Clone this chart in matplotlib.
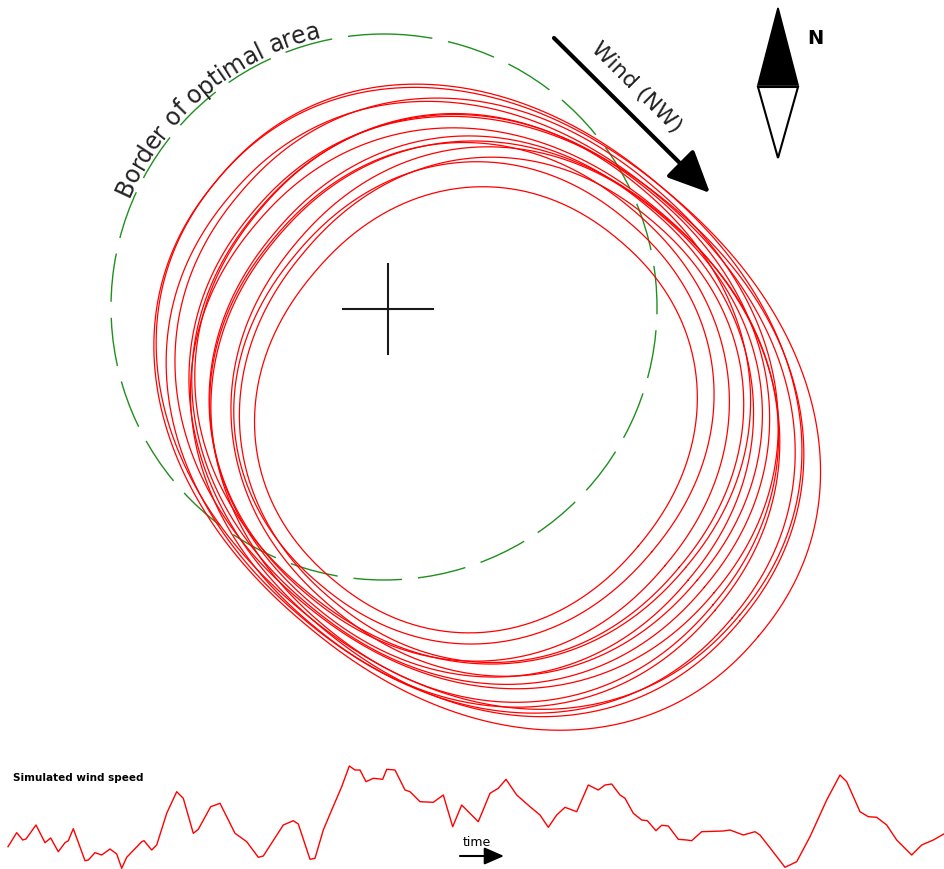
import numpy as np
import matplotlib
matplotlib.use('Agg')
import matplotlib.pyplot as plt
from matplotlib.patches import Circle, Polygon
from matplotlib.font_manager import FontProperties

W, H = 945, 869

# green border of optimal area + target cross (pixel units)
border_center = (384, 307)
border_radius = 273
cross_center = (388, 309)
cross_half = 45

# flight loops: superellipses tilted along the wind (NW -> SE)
tilt_deg = 40
loop_a = [212, 232, 245, 255, 262, 270, 278, 285, 292, 300, 310, 318, 328, 340, 354]
loop_b = [222, 238, 248, 252, 256, 260, 262, 266, 268, 270, 272, 274, 276, 278, 282]
loop_c1 = [628, 622, 640, 618, 645, 630, 612, 650, 625, 640, 618, 648, 630, 622, 636]
loop_c2 = [-8, -4, 2, -6, 4, -2, 6, -5, 3, -8, 5, 0, -3, 4, 0]
loop_power = 2.15

# simulated wind speed trace
wind_x = [8, 16.7, 22.7, 26, 36, 45, 50.7, 58.3, 65, 68.3, 73.3, 85, 88.3, 95, 101.7, 110,
          116.7, 121.7, 126.7, 141.7, 144, 151.7, 156.7, 166.7, 176.7, 183.3, 193.3, 198.3,
          210.7, 220, 235, 246.7, 258.3, 263.3, 283.3, 293.3, 298.3, 310, 315, 323.3, 331.7,
          341.7, 349.3, 355, 360, 366, 373.3, 382.7, 386.7, 395, 405, 410, 420, 433.3, 443.3,
          452.7, 461.7, 478.3, 490, 498.3, 506, 516.7, 530, 540, 548.3, 556.7, 565, 576.7,
          588.3, 598.3, 605, 611.7, 620, 625, 633.3, 641.7, 647.3, 656, 661.7, 668.3, 678.3,
          686.7, 691.7, 701.7, 723.3, 730, 743.3, 755, 760, 771.7, 785, 796.7, 810, 826.7,
          840, 846.7, 860, 868.3, 876.7, 886.7, 896.7, 911.7, 921.7, 933.3, 945]
wind_y = [846.7, 832.7, 840, 839, 825, 842.7, 838, 851.7, 842.7, 840.7, 828.7, 860.7, 860,
          852.7, 855, 849, 854, 868.3, 857.3, 841.7, 840.7, 850, 845, 813.3, 791.7, 798.3,
          833.3, 829.3, 806.7, 803.3, 833.3, 841.7, 857.3, 856, 825, 820.7, 824, 859.3, 858.3,
          830, 810, 786.7, 766, 770, 770, 781.7, 778.3, 779.3, 769.3, 770, 790, 791.7, 801.7,
          802.3, 795, 826.7, 805, 821.7, 793.3, 788.3, 779.3, 795, 806.7, 815, 827.3, 815,
          807.3, 811.7, 785, 790, 785, 784, 795, 798.3, 813.3, 820, 820.7, 830.7, 825.3, 826,
          839.3, 840, 840.7, 831.7, 831, 830, 835, 831.7, 835, 850, 867.3, 861.7, 836.7, 800,
          775, 781.7, 811.7, 816.7, 817.3, 825, 840, 855, 845, 840, 833.3]

fig = plt.figure(figsize=(9.45, 8.69), dpi=100)
ax = fig.add_axes([0, 0, 1, 1])
ax.set_xlim(0, W)
ax.set_ylim(H, 0)
ax.axis('off')

# loops
th = np.radians(tilt_deg)
e1 = np.array([np.cos(th), np.sin(th)])
e2 = np.array([np.sin(th), -np.cos(th)])
t = np.linspace(0, 2 * np.pi, 500)
ct, st = np.cos(t), np.sin(t)
for a, b, c1, c2 in zip(loop_a, loop_b, loop_c1, loop_c2):
    u = c1 + a * np.sign(ct) * np.abs(ct) ** (2 / loop_power)
    v = c2 + b * np.sign(st) * np.abs(st) ** (2 / loop_power)
    ax.plot(u * e1[0] + v * e2[0], u * e1[1] + v * e2[1], color='#ff0000', lw=0.9)

# border circle
ax.add_patch(Circle(border_center, border_radius, fill=False, edgecolor='#1f8f1f',
                    lw=1.0, linestyle=(0, (35, 11.5))))

# cross
cx, cy = cross_center
ax.plot([cx - cross_half, cx + cross_half], [cy, cy], color='#1a1a1a', lw=1.5)
ax.plot([cx, cx], [cy - cross_half, cy + cross_half], color='#1a1a1a', lw=1.5)

# curved label along the border
label = 'Border of optimal area'
prop = FontProperties(family='DejaVu Sans', size=17)
renderer = fig.canvas.get_renderer()
def tw(s):
    return renderer.get_text_width_height_descent(s, prop, ismath=False)[0]
R_text = 284
total = tw(label)
mid_ang = np.radians(130)
start = mid_ang + total / 2 / R_text
for i, ch in enumerate(label):
    if ch == ' ':
        continue
    centre = tw(label[:i + 1]) - tw(ch) / 2
    ang = start - centre / R_text
    x = border_center[0] + R_text * np.cos(ang)
    y = border_center[1] - R_text * np.sin(ang)
    ax.text(x, y, ch, fontproperties=prop, color='#222222', ha='center', va='center',
            rotation=np.degrees(ang) - 90, rotation_mode='anchor')

# wind arrow
ax.annotate('', xy=(710, 193), xytext=(554, 38),
            arrowprops=dict(arrowstyle='-|>,head_length=1.3,head_width=0.6', lw=3,
                            color='black', mutation_scale=20, shrinkA=0, shrinkB=0))
ax.text(636, 88, 'Wind (NW)', fontsize=16, color='#222222', rotation=-45,
        ha='center', va='center', rotation_mode='anchor')

# north compass
ax.add_patch(Polygon([(758, 85), (798, 85), (778, 8)], closed=True,
                     facecolor='black', edgecolor='black', lw=1.2))
ax.add_patch(Polygon([(758, 87), (798, 87), (778, 158)], closed=True,
                     facecolor='white', edgecolor='black', lw=1.5))
ax.text(815, 38, 'N', fontsize=14, fontweight='bold', ha='center', va='center')

# wind speed panel
ax.plot(wind_x, wind_y, color='#ff0000', lw=1.0)
ax.text(13, 778, 'Simulated wind speed', fontsize=7.5, fontweight='bold',
        ha='left', va='center')
ax.text(477, 842, 'time', fontsize=9, ha='center', va='center')
ax.annotate('', xy=(504, 856), xytext=(460, 856),
            arrowprops=dict(arrowstyle='-|>,head_length=0.8,head_width=0.35', lw=1.5,
                            color='black', mutation_scale=15, shrinkA=0, shrinkB=0))

fig.savefig('out.png', dpi=100, facecolor='white')
